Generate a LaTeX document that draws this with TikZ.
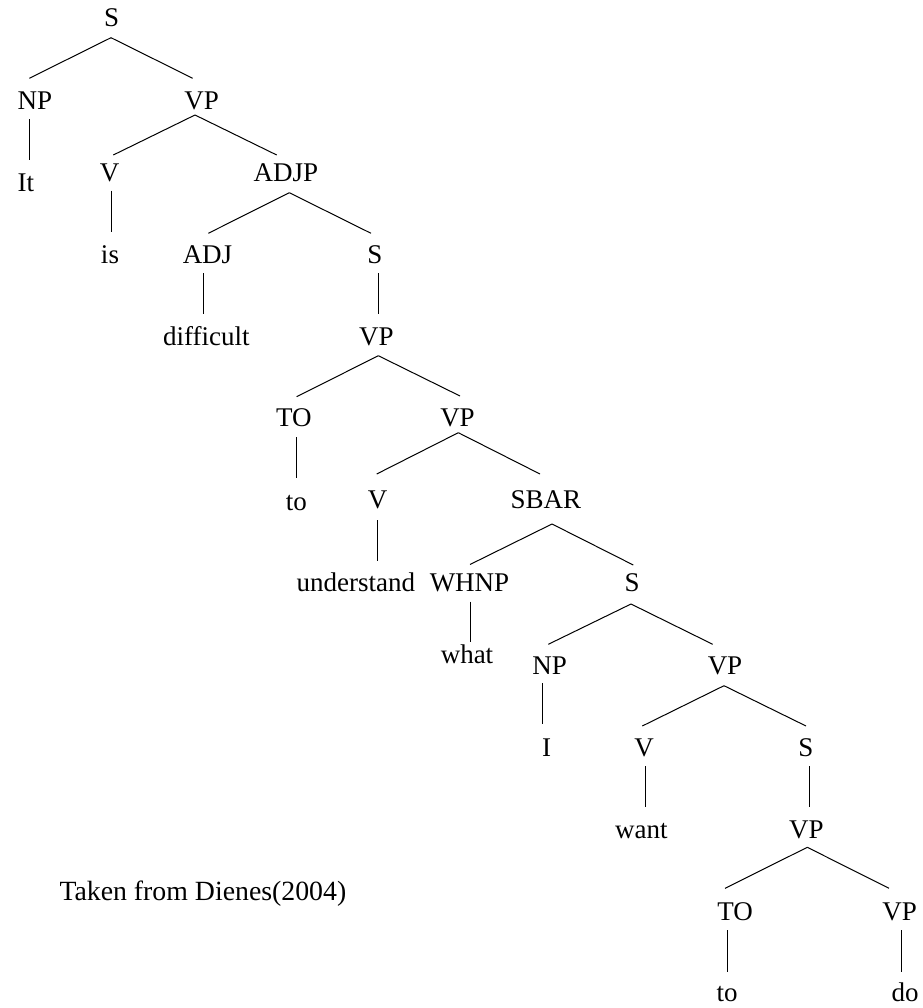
\documentclass[tikz,border=0pt]{standalone}
\usepackage{fontspec}
\setmainfont{Liberation Serif}
\begin{document}
\begin{tikzpicture}[x=1pt,y=-1pt,
  lbl/.style={inner sep=0pt, anchor=base, font=\fontsize{27}{30}\selectfont},
  branch/.style={draw=black, line width=1pt}]
\useasboundingbox (0,0) rectangle (922,1008);
% nodes (centre x, baseline y)
\node[lbl] (s0)   at (111.7,26.7)  {S};
\node[lbl] (np1)  at (35,109.3)    {NP};
\node[lbl] (vp1)  at (201.7,109.3) {VP};
\node[lbl] (it)   at (25.8,191.7)  {It};
\node[lbl] (v1)   at (109.7,181.7) {V};
\node[lbl] (adjp) at (285.8,181.7) {ADJP};
\node[lbl] (is)   at (110,263.3)   {is};
\node[lbl] (adj)  at (207.5,263.3) {ADJ};
\node[lbl] (s2)   at (374.8,263.3) {S};
\node[lbl] (dif)  at (206.3,345)   {difficult};
\node[lbl] (vp2)  at (376.3,345)   {VP};
\node[lbl] (toA)  at (293.8,426.7) {TO};
\node[lbl] (vp3)  at (457.5,426.7) {VP};
\node[lbl] (wto1) at (296.3,510)   {to};
\node[lbl] (v2)   at (377.5,508.3) {V};
\node[lbl] (sbar) at (545.8,508.3) {SBAR};
\node[lbl] (und)  at (355.8,591.7) {understand};
\node[lbl] (whnp) at (469.5,591.7) {WHNP};
\node[lbl] (s3)   at (632,591.7)   {S};
\node[lbl] (what) at (467,663.3)   {what};
\node[lbl] (np2)  at (549.7,674)   {NP};
\node[lbl] (vp4)  at (725,674)     {VP};
\node[lbl] (wi)   at (546.7,756)   {I};
\node[lbl] (v3)   at (644.2,756)   {V};
\node[lbl] (s4)   at (805.8,756)   {S};
\node[lbl] (want) at (641.3,838.3) {want};
\node[lbl] (vp5)  at (806.3,838.3) {VP};
\node[lbl] (toB)  at (735,920)     {TO};
\node[lbl] (vp6)  at (899.7,920)   {VP};
\node[lbl] (wto2) at (727,1001.7)  {to};
\node[lbl] (wdo)  at (905,1001.7)  {do};
\node[lbl, anchor=base west, font=\fontsize{27.8}{30}\selectfont] (cap) at (59.3,900) {Taken from Dienes(2004)};
% branches
\draw[branch] ([shift={(-0.7,11)}]s0.base) -- ([shift={(-5.7,-31)}]np1.base);
\draw[branch] ([shift={(-0.7,11)}]s0.base) -- ([shift={(-9,-31)}]vp1.base);
\draw[branch] ([shift={(-5.5,10)}]np1.base) -- ([shift={(3.7,-31.7)}]it.base);
\draw[branch] ([shift={(-6.7,5.7)}]vp1.base) -- ([shift={(3.6,-26.7)}]v1.base);
\draw[branch] ([shift={(-6.7,5.7)}]vp1.base) -- ([shift={(-9.1,-26.7)}]adjp.base);
\draw[branch] ([shift={(1.8,9)}]v1.base) -- ([shift={(1.5,-31.6)}]is.base);
\draw[branch] ([shift={(3.5,11)}]adjp.base) -- ([shift={(0.8,-30)}]adj.base);
\draw[branch] ([shift={(3.5,11)}]adjp.base) -- ([shift={(-3.8,-30)}]s2.base);
\draw[branch] ([shift={(-4,10)}]adj.base) -- ([shift={(-2.8,-31)}]dif.base);
\draw[branch] ([shift={(3.7,10)}]s2.base) -- ([shift={(2.2,-31)}]vp2.base);
\draw[branch] ([shift={(2,10.7)}]vp2.base) -- ([shift={(2.9,-30)}]toA.base);
\draw[branch] ([shift={(2,10.7)}]vp2.base) -- ([shift={(2.5,-30.7)}]vp3.base);
\draw[branch] ([shift={(2.7,10.6)}]toA.base) -- ([shift={(0.2,-31.7)}]wto1.base);
\draw[branch] ([shift={(0.8,6)}]vp3.base) -- ([shift={(-0.8,-34.3)}]v2.base);
\draw[branch] ([shift={(0.8,6)}]vp3.base) -- ([shift={(-5.8,-34.3)}]sbar.base);
\draw[branch] ([shift={(0,11.7)}]v2.base) -- ([shift={(21.7,-31)}]und.base);
\draw[branch] ([shift={(6.2,15.7)}]sbar.base) -- ([shift={(0.5,-27.2)}]whnp.base);
\draw[branch] ([shift={(6.2,15.7)}]sbar.base) -- ([shift={(1.3,-26.7)}]s3.base);
\draw[branch] ([shift={(1,10)}]whnp.base) -- ([shift={(3.5,-21)}]what.base);
\draw[branch] ([shift={(-1,12.3)}]s3.base) -- ([shift={(-1.4,-29.7)}]np2.base);
\draw[branch] ([shift={(-1,12.3)}]s3.base) -- ([shift={(-12.3,-29.7)}]vp4.base);
\draw[branch] ([shift={(-7.2,9.3)}]np2.base) -- ([shift={(-4.2,-31.7)}]wi.base);
\draw[branch] ([shift={(-1,11.7)}]vp4.base) -- ([shift={(-1.9,-30)}]v3.base);
\draw[branch] ([shift={(-1,11.7)}]vp4.base) -- ([shift={(0.2,-30)}]s4.base);
\draw[branch] ([shift={(1.3,10)}]v3.base) -- ([shift={(4.2,-31.6)}]want.base);
\draw[branch] ([shift={(3.7,10)}]s4.base) -- ([shift={(3.2,-31.6)}]vp5.base);
\draw[branch] ([shift={(1,9)}]vp5.base) -- ([shift={(-10,-31.7)}]toB.base);
\draw[branch] ([shift={(1,9)}]vp5.base) -- ([shift={(-10.7,-31.7)}]vp6.base);
\draw[branch] ([shift={(-7.5,10)}]toB.base) -- ([shift={(0.5,-30)}]wto2.base);
\draw[branch] ([shift={(1.8,10)}]vp6.base) -- ([shift={(-3.5,-30)}]wdo.base);
\end{tikzpicture}
\end{document}
